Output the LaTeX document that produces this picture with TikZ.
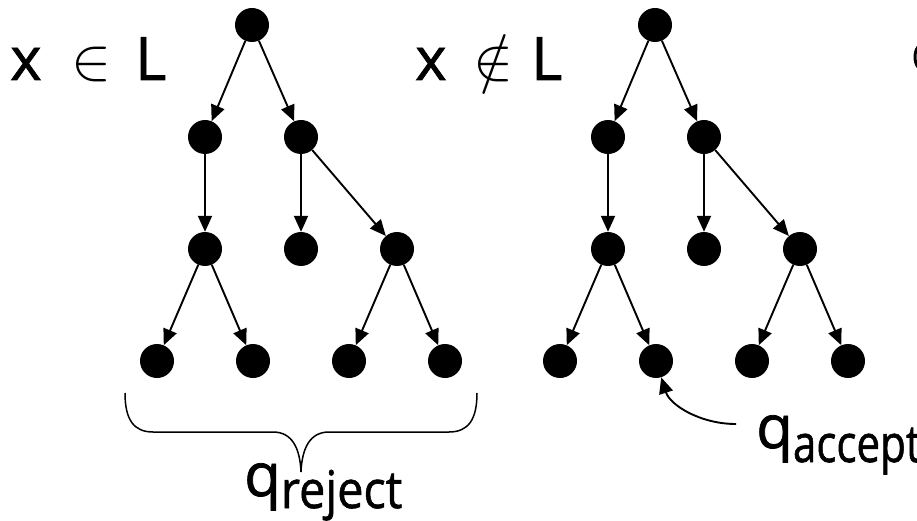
\documentclass[tikz,border=0pt]{standalone}
\usepackage{fontspec}
\setmainfont{Open Sans}[FakeBold=1.2]
\usepackage{graphicx}
\usetikzlibrary{arrows.meta}
\newcommand{\bigsym}[1]{\scalebox{6}{\normalsize$#1$}}
\begin{document}
\begin{tikzpicture}[x=1pt,y=-1pt,
  dot/.style={circle,fill=black,inner sep=0pt,minimum size=34pt},
  edge/.style={line width=1.9pt,-{Triangle[length=16pt,width=14pt]}},
  big/.style={inner sep=0pt,anchor=base west,font=\fontsize{60}{70}\selectfont}]
\useasboundingbox (0,0) rectangle (917,521);
% left tree
\node[dot] (a0) at (252,25) {};
\node[dot] (a1) at (205,137) {};
\node[dot] (a2) at (301,137) {};
\node[dot] (a3) at (205,249) {};
\node[dot] (a4) at (301,249) {};
\node[dot] (a5) at (397,249) {};
\node[dot] (a6) at (157,361) {};
\node[dot] (a7) at (253,361) {};
\node[dot] (a8) at (349,361) {};
\node[dot] (a9) at (445,361) {};
% right tree
\node[dot] (b0) at (655,25) {};
\node[dot] (b1) at (608,137) {};
\node[dot] (b2) at (704,137) {};
\node[dot] (b3) at (608,249) {};
\node[dot] (b4) at (704,249) {};
\node[dot] (b5) at (800,249) {};
\node[dot] (b6) at (560,361) {};
\node[dot] (b7) at (656,361) {};
\node[dot] (b8) at (752,361) {};
\node[dot] (b9) at (848,361) {};
\foreach \t in {a,b}{
  \draw[edge] (\t0) -- (\t1);
  \draw[edge] (\t0) -- (\t2);
  \draw[edge] (\t1) -- (\t3);
  \draw[edge] (\t2) -- (\t4);
  \draw[edge] (\t2) -- (\t5);
  \draw[edge] (\t3) -- (\t6);
  \draw[edge] (\t3) -- (\t7);
  \draw[edge] (\t5) -- (\t8);
  \draw[edge] (\t5) -- (\t9);
}
% labels
\node[big] (lin) at (10,80) {\makebox[61pt][l]{x}\makebox[64pt][l]{\bigsym{\in}}L};
\node[big] (lnot) at (415,80) {\makebox[58pt][l]{x}\makebox[58pt][l]{\bigsym{\notin}}L};
% brace
\draw[line width=1.5pt] (125,393) .. controls (125,420) and (134,432) .. (153,432)
  -- (273,432) .. controls (292,432) and (300,448) .. (301,472)
  .. controls (302,448) and (310,432) .. (329,432) -- (449,432)
  .. controls (468,432) and (477,420) .. (477,393);
\node[big] (qrej) at (244,496) {q\raisebox{-12pt}{\fontsize{52}{60}\selectfont\scalebox{0.9}[1]{reject}}};
\node[big] (qacc) at (756,448) {q\raisebox{-14pt}{\fontsize{52}{60}\selectfont\scalebox{0.81}[1]{accept}}};
\coordinate (qs) at (736,424);
\draw[line width=1.9pt,-{Triangle[length=16pt,width=14pt]}] (qs) .. controls (700,424) and (670,405) .. (b7);
% clipped glyph at right edge
\draw[line width=3pt] (918,47) .. controls (914,52) and (914,62) .. (918,67);
\end{tikzpicture}
\end{document}
